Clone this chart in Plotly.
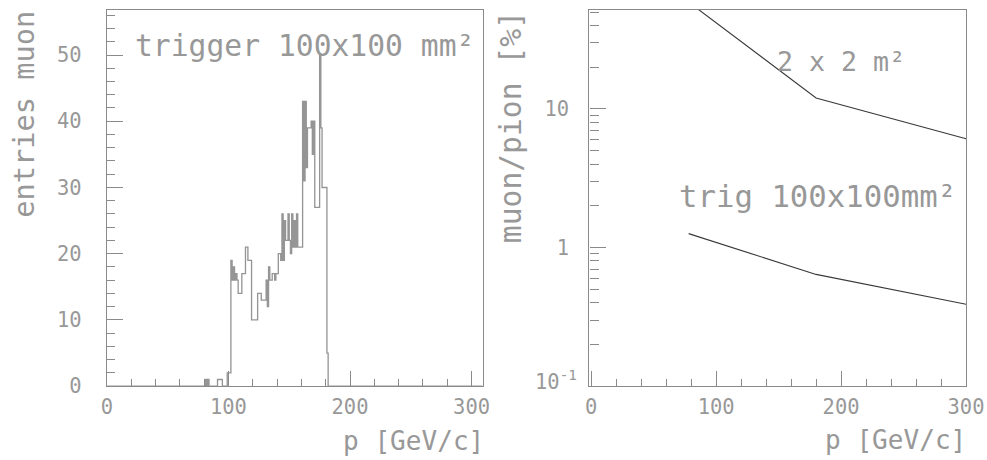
import plotly.graph_objects as go

# ---------------- data ----------------
# left: muon entries histogram, 1 GeV/c bins starting at hist_lo
hist_lo = 78
hist_counts = [0, 0, 0, 1, 0, 1, 0, 0, 0, 0,      # 78-87
               0, 0, 0, 1, 1, 1, 1, 0, 0, 0,      # 88-97
               0, 2, 2, 2, 19, 16, 18, 16, 17, 16,  # 98-107
               14, 14, 14, 17, 17, 17, 21, 21, 19, 19,  # 108-117
               19, 10, 10, 10, 10, 10, 14, 14, 14, 13,  # 118-127
               13, 13, 13, 16, 12, 18, 16, 16, 17, 17,  # 128-137
               16, 17, 17, 20, 20, 19, 26, 19, 25, 22,  # 138-147
               22, 26, 22, 20, 26, 21, 25, 21, 26, 21,  # 148-157
               21, 21, 21, 43, 31, 43, 33, 39, 39, 39,  # 158-167
               40, 35, 40, 27, 27, 27, 27, 50, 39, 30,  # 168-177
               30, 30, 30, 5, 0]                     # 178-182

# right: muon/pion ratio [%]
p_ratio = [78, 180, 300]
ratio_2x2 = [59, 12.0, 6.1]
ratio_trig = [1.26, 0.64, 0.39]

left_x_ticks = [0, 100, 200, 300]
left_y_ticks = [0, 10, 20, 30, 40, 50]
right_x_ticks = [0, 100, 200, 300]
right_y_ticks = [0.1, 1, 10]
right_y_labels = ["", "1", "10"]

# layout designed in 987x460 reference pixels; S compensates the page scaling
S = 1.0235
RW, RH = 987, 460
OX, OY = -6, 1
W, H = round(RW * S), round(RH * S)
FONT = "DejaVu Sans Mono"
TXT = "#989898"
AX = "#8a8a8a"

xs = [0] + [hist_lo + i for i in range(len(hist_counts))] + [hist_lo + len(hist_counts), 309]
ys = [0] + hist_counts + [0, 0]

fig = go.Figure()
fig.add_trace(go.Scatter(x=xs, y=ys, mode="lines", line=dict(shape="hv", color="#959595", width=1.3 * S),
                         xaxis="x", yaxis="y", showlegend=False, hoverinfo="skip"))
fig.add_trace(go.Scatter(x=p_ratio, y=ratio_2x2, mode="lines", line=dict(color="#3a3a3a", width=1.1 * S),
                         xaxis="x2", yaxis="y2", showlegend=False, hoverinfo="skip"))
fig.add_trace(go.Scatter(x=p_ratio, y=ratio_trig, mode="lines", line=dict(color="#3a3a3a", width=1.1 * S),
                         xaxis="x2", yaxis="y2", showlegend=False, hoverinfo="skip"))

def px(x):
    return (x + OX) / RW

def py(y):
    return 1 - (y + OY) / RH

def s(v):
    return v * S

def si(v):
    return int(round(v * S))

common = dict(showgrid=False, zeroline=False, showline=True, linecolor=AX, linewidth=s(1.3), mirror=True,
              ticks="inside", tickcolor=AX, tickwidth=1, tickfont=dict(family=FONT, size=s(20), color=TXT))

fig.update_layout(
    width=W, height=H, margin=dict(l=0, r=0, t=0, b=0),
    paper_bgcolor="white", plot_bgcolor="white",
    xaxis=dict(domain=[px(107), px(483)], range=[0, 309], anchor="y",
               tickvals=left_x_ticks, ticklen=s(15), ticklabelstandoff=si(2),
               minor=dict(dtick=20, ticks="inside", ticklen=s(7), tickcolor=AX), **common),
    yaxis=dict(domain=[py(386), py(9)], range=[0, 56.8], anchor="x",
               tickvals=left_y_ticks, ticklen=s(16), ticklabelstandoff=si(20),
               minor=dict(dtick=2, ticks="inside", ticklen=s(8), tickcolor=AX), **common),
    xaxis2=dict(domain=[px(590), px(967)], range=[-1.4, 300], anchor="y2",
                tickvals=right_x_ticks, ticklen=s(15), ticklabelstandoff=si(2),
                minor=dict(dtick=20, ticks="inside", ticklen=s(7), tickcolor=AX), **common),
    yaxis2=dict(domain=[py(386), py(9)], type="log", range=[-1, 1.714], anchor="x2",
                tickvals=right_y_ticks, ticktext=right_y_labels, ticklen=s(16), ticklabelstandoff=si(15),
                minor=dict(tickvals=[0.2, 0.3, 0.4, 0.5, 0.6, 0.7, 0.8, 0.9,
                                     2, 3, 4, 5, 6, 7, 8, 9, 20, 30, 40, 50],
                           ticks="inside", ticklen=s(9), tickcolor=AX), **common),
)

ann = [
    dict(text="trigger 100x100 mm²", x=px(133), y=py(45), xanchor="left", yanchor="middle", size=29),
    dict(text="2 x 2 m²", x=px(776), y=py(61), xanchor="left", yanchor="middle", size=26),
    dict(text="trig 100x100mm²", x=px(678), y=py(196), xanchor="left", yanchor="middle", size=30),
    dict(text="p [GeV/c]", x=px(486), y=py(441), xanchor="right", yanchor="middle", size=25.5),
    dict(text="p [GeV/c]", x=px(969), y=py(440), xanchor="right", yanchor="middle", size=25.5),
    dict(text="entries muon", x=px(24), y=py(113), xanchor="center", yanchor="middle", size=28, angle=-90),
    dict(text="muon/pion [%]", x=px(511), y=py(126), xanchor="center", yanchor="middle", size=29, angle=-90),
    dict(text="10<sup>-1</sup>", x=px(534), y=py(380), xanchor="left", yanchor="middle", size=20),
]
for a in ann:
    fig.add_annotation(text=a["text"], x=a["x"], y=a["y"], xref="paper", yref="paper",
                       xanchor=a["xanchor"], yanchor=a["yanchor"], showarrow=False,
                       textangle=a.get("angle", 0),
                       font=dict(family=FONT, size=s(a["size"]), color=TXT))

fig.write_html("out.html")
